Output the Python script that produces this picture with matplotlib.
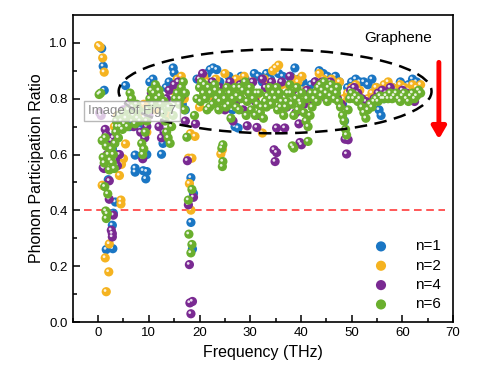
import matplotlib
matplotlib.use("Agg")
import matplotlib.pyplot as plt
from matplotlib.patches import Ellipse
from matplotlib.transforms import offset_copy

plt.rcParams['font.family'] = ['Liberation Sans', 'DejaVu Sans']

labels = ["n=1", "n=2", "n=4", "n=6"]
colors = ["#1a76c4", "#f5b320", "#7a2a92", "#6aaf2e"]

freq_n1 = [0.7,1.0,1.2,2.0,3.4,3.0,2.8,1.6,2.9,2.0,2.4,2.8,3.2,3.6,4.4,5.4,4.8,6.2,7.3,7.3,7.3,8.9,9.6,9.4,9.6,12.5,8.4,10.2,10.8,11.6,12.2,12.8,13.4,14.0,14.8,15.0,15.8,16.6,17.2,18.3,18.6,18.8,18.3,19.5,20.5,21.5,22.1,22.7,23.4,24.0,25.0,25.8,26.5,27.0,27.6,28.2,29.0,30.0,30.8,31.6,32.4,33.2,34.0,34.8,35.6,36.4,37.2,38.0,38.8,39.6,40.4,41.2,42.0,42.8,43.6,44.4,45.2,46.0,46.8,47.6,48.2,48.6,49.2,50.0,50.8,51.6,52.4,53.2,54.0,54.8,55.4,55.8,56.4,57.2,58.0,58.8,59.6,60.4,61.2,62.0,62.8,63.4]
ppr_n1 = [0.98,0.916,0.83,0.51,0.43,0.39,0.347,0.26,0.263,0.63,0.66,0.62,0.64,0.60,0.58,0.847,0.72,0.70,0.598,0.551,0.537,0.542,0.539,0.513,0.60,0.601,0.69,0.86,0.87,0.82,0.76,0.64,0.84,0.86,0.91,0.892,0.83,0.78,0.76,0.357,0.262,0.461,0.517,0.87,0.85,0.89,0.904,0.91,0.904,0.86,0.82,0.88,0.76,0.70,0.695,0.88,0.87,0.85,0.89,0.88,0.86,0.89,0.87,0.90,0.89,0.88,0.86,0.88,0.91,0.87,0.86,0.84,0.85,0.86,0.90,0.89,0.88,0.87,0.88,0.86,0.78,0.72,0.84,0.86,0.87,0.86,0.86,0.85,0.87,0.84,0.76,0.74,0.80,0.82,0.84,0.82,0.86,0.84,0.85,0.87,0.86,0.85]

freq_n2 = [0.1,0.4,0.9,1.2,0.8,1.4,2.1,1.6,2.2,4.5,4.5,4.2,4.6,5.0,5.4,3.2,3.8,6.5,7.8,9.0,9.6,10.5,11.5,12.5,13.5,14.5,15.6,16.4,17.0,17.8,18.5,18.0,18.3,19.1,18.2,20.0,20.8,21.6,22.4,23.2,24.2,24.5,25.0,25.8,26.5,27.2,28.0,28.8,29.6,30.4,31.2,32.4,32.8,33.6,34.4,35.0,35.6,36.2,37.0,37.8,38.6,39.4,40.2,41.0,42.0,42.8,43.6,44.4,45.2,46.0,46.8,47.6,48.4,49.2,50.0,50.8,51.6,52.4,53.2,54.0,54.8,55.6,56.4,57.2,58.0,58.8,59.6,60.4,61.2,62.0,62.8,63.6]
ppr_n2 = [0.99,0.985,0.946,0.895,0.49,0.23,0.18,0.109,0.28,0.437,0.423,0.525,0.565,0.585,0.638,0.70,0.74,0.79,0.74,0.78,0.68,0.79,0.76,0.80,0.74,0.83,0.87,0.88,0.80,0.587,0.587,0.496,0.401,0.665,0.675,0.77,0.88,0.86,0.81,0.87,0.602,0.617,0.89,0.85,0.79,0.87,0.82,0.88,0.84,0.86,0.81,0.677,0.87,0.84,0.90,0.91,0.92,0.85,0.78,0.84,0.87,0.86,0.88,0.83,0.79,0.82,0.89,0.87,0.85,0.87,0.84,0.86,0.80,0.82,0.84,0.85,0.83,0.78,0.80,0.82,0.84,0.83,0.85,0.86,0.84,0.83,0.85,0.84,0.83,0.85,0.84,0.85]

freq_n4 = [0.3,0.6,1.0,1.2,1.4,1.6,1.8,2.2,2.2,3.0,2.6,2.8,2.8,2.6,3.0,3.4,3.8,4.2,4.0,5.0,6.0,7.0,7.5,8.0,8.4,8.8,9.2,9.6,10.0,10.5,11.5,12.0,12.5,13.0,13.5,14.0,15.0,15.8,16.5,17.2,17.6,17.8,18.8,18.0,18.1,18.6,18.3,19.2,20.0,20.6,21.5,22.5,23.2,24.0,25.0,25.5,26.0,26.6,27.2,28.0,28.6,29.4,29.8,30.5,31.0,31.3,31.8,32.4,33.0,33.6,34.2,34.7,35.2,34.9,35.2,35.6,36.2,36.8,37.2,37.8,38.4,39.0,39.6,39.8,40.1,40.6,41.2,42.0,42.8,43.5,44.2,45.0,45.8,46.5,47.2,48.0,48.7,49.3,49.0,49.8,50.5,51.2,52.0,52.8,53.6,54.4,55.2,56.0,56.8,57.6,58.4,59.2,60.0,60.8,61.6,62.4,63.2]
ppr_n4 = [0.75,0.74,0.553,0.55,0.69,0.67,0.60,0.506,0.44,0.383,0.329,0.317,0.305,0.65,0.66,0.58,0.56,0.60,0.70,0.76,0.78,0.70,0.76,0.72,0.68,0.585,0.66,0.70,0.74,0.82,0.84,0.70,0.66,0.68,0.80,0.83,0.85,0.86,0.81,0.72,0.578,0.42,0.447,0.206,0.069,0.074,0.03,0.71,0.87,0.89,0.83,0.86,0.79,0.84,0.76,0.82,0.86,0.72,0.79,0.85,0.76,0.703,0.82,0.86,0.79,0.697,0.74,0.87,0.84,0.78,0.86,0.617,0.607,0.575,0.695,0.80,0.86,0.695,0.77,0.88,0.83,0.75,0.71,0.643,0.635,0.78,0.83,0.80,0.86,0.82,0.86,0.80,0.86,0.83,0.80,0.78,0.655,0.653,0.602,0.83,0.84,0.82,0.80,0.79,0.78,0.80,0.82,0.83,0.82,0.84,0.82,0.81,0.83,0.82,0.80,0.79,0.82]

freq_n6 = [0.2,0.5,0.8,1.0,1.2,1.3,1.9,1.5,1.8,1.6,1.4,1.6,2.0,2.2,2.4,2.6,2.8,3.0,3.2,3.3,3.5,3.6,3.8,4.0,4.2,4.4,4.6,4.8,5.0,5.2,5.5,5.8,6.0,6.3,6.6,7.0,7.3,7.6,8.0,8.3,8.6,8.8,9.0,9.3,9.6,9.8,10.2,10.5,10.8,11.0,11.3,11.6,12.0,12.4,12.8,13.2,13.5,13.8,14.2,14.5,14.8,15.2,15.6,16.0,16.4,16.8,17.2,17.5,17.8,17.9,18.5,18.3,18.5,19.0,19.5,20.0,20.4,20.8,21.2,21.5,21.8,22.2,22.6,23.0,23.4,23.8,24.2,24.6,24.4,24.6,24.5,25.0,25.4,25.8,26.2,26.6,27.0,27.4,27.8,28.2,28.6,29.0,29.4,29.8,30.2,30.6,31.0,31.4,31.8,32.2,32.6,33.0,33.4,33.8,34.2,34.6,35.0,35.4,35.8,36.2,36.6,37.0,37.4,37.8,38.3,38.6,38.2,38.6,39.0,39.4,39.8,40.2,40.6,41.0,41.4,41.4,41.8,42.2,42.6,43.0,43.4,43.8,44.2,44.6,45.0,45.4,45.8,46.2,46.6,47.0,47.4,47.8,48.2,48.5,48.8,49.0,49.3,49.6,50.0,50.4,50.8,51.2,51.6,52.0,52.4,52.8,53.2,53.6,54.0,54.4,54.8,55.2,55.6,56.0,56.4,56.8,57.2,57.6,58.0,58.4,58.8,59.2,59.6,60.0,60.4,60.8,61.2,61.6,62.0,62.4,62.8,63.2,63.6,
            20.2,21.0,22.0,23.2,24.0,25.2,26.0,27.2,28.0,29.2,30.0,31.2,32.0,33.2,34.0,35.2,36.0,37.2,38.0,39.2,40.0,41.2,42.0,43.2,44.0,45.2,46.0,47.2,12.2,13.0,14.0,16.2,17.0,6.8,7.8]
ppr_n6 = [0.815,0.82,0.65,0.59,0.57,0.485,0.459,0.398,0.388,0.371,0.66,0.63,0.60,0.545,0.58,0.62,0.57,0.60,0.55,0.64,0.68,0.72,0.70,0.66,0.74,0.70,0.72,0.69,0.75,0.71,0.73,0.70,0.76,0.82,0.80,0.74,0.71,0.78,0.76,0.72,0.64,0.60,0.62,0.68,0.72,0.76,0.80,0.83,0.78,0.82,0.85,0.80,0.83,0.78,0.75,0.72,0.68,0.66,0.64,0.70,0.74,0.80,0.82,0.78,0.84,0.86,0.82,0.662,0.437,0.315,0.278,0.248,0.475,0.74,0.80,0.84,0.86,0.82,0.80,0.76,0.84,0.82,0.78,0.85,0.80,0.76,0.82,0.635,0.623,0.575,0.557,0.80,0.84,0.78,0.73,0.80,0.84,0.81,0.76,0.80,0.83,0.86,0.79,0.82,0.76,0.80,0.74,0.78,0.82,0.77,0.73,0.79,0.81,0.84,0.78,0.82,0.80,0.76,0.82,0.79,0.74,0.77,0.82,0.85,0.631,0.623,0.78,0.74,0.80,0.76,0.79,0.82,0.75,0.72,0.647,0.70,0.74,0.77,0.80,0.82,0.84,0.85,0.83,0.86,0.82,0.84,0.81,0.83,0.80,0.82,0.79,0.77,0.74,0.72,0.69,0.67,0.76,0.80,0.82,0.80,0.81,0.79,0.80,0.77,0.75,0.73,0.76,0.78,0.77,0.79,0.80,0.79,0.81,0.80,0.80,0.81,0.80,0.82,0.80,0.81,0.82,0.80,0.79,0.81,0.82,0.80,0.79,0.81,0.82,0.80,0.81,0.83,0.82,
           0.79,0.85,0.77,0.83,0.79,0.77,0.82,0.77,0.84,0.74,0.84,0.82,0.75,0.77,0.80,0.84,0.77,0.79,0.82,0.84,0.78,0.80,0.82,0.79,0.81,0.79,0.85,0.84,0.81,0.79,0.77,0.80,0.76,0.77,0.73]

x_ticks = [0, 10, 20, 30, 40, 50, 60, 70]
y_ticks = [0.0, 0.2, 0.4, 0.6, 0.8, 1.0]

fig = plt.figure(figsize=(4.82, 3.72), dpi=100)
ax = fig.add_axes([0.151, 0.134, 0.789, 0.826])

series = [(freq_n1, ppr_n1), (freq_n2, ppr_n2), (freq_n4, ppr_n4), (freq_n6, ppr_n6)]
hl = offset_copy(ax.transData, fig=fig, x=-1.2, y=1.2, units='dots')
for (fx, fy), c, lab in zip(series, colors, labels):
    ax.scatter(fx, fy, s=44, color=c, edgecolors='none', label=lab, zorder=3)
    ax.scatter(fx, fy, s=4, color='white', alpha=0.85, edgecolors='none',
               transform=hl, zorder=3)

ax.axhline(0.4, xmin=0.03, xmax=0.98, color='#ff2a2a', ls=(0, (5, 3)), lw=1.1, zorder=2)

ell = Ellipse((34.9, 0.826), 61.7, 0.30, fill=False, ec='black', lw=1.8,
              ls=(0, (5, 3)), zorder=4)
ax.add_patch(ell)

ax.annotate('', xy=(67.2, 0.645), xytext=(67.2, 0.94),
            arrowprops=dict(arrowstyle='-|>,head_length=0.6,head_width=0.35',
                            color='#ff0000', lw=3.5, mutation_scale=12),
            zorder=5)

ax.text(59.2, 1.018, 'Graphene', ha='center', va='center', fontsize=11)

ax.set_xlim(-5, 70)
ax.set_ylim(0, 1.1)
ax.set_xticks(x_ticks)
ax.set_yticks(y_ticks)
ax.set_yticklabels([f"{v:.1f}" for v in y_ticks])
ax.set_xticks([-5, 5, 15, 25, 35, 45, 55, 65], minor=True)
ax.set_yticks([0.1, 0.3, 0.5, 0.7, 0.9], minor=True)
ax.tick_params(which='both', direction='in', labelsize=9.5, width=1.1)
ax.tick_params(which='major', length=5)
ax.tick_params(which='minor', length=3)
for sp in ax.spines.values():
    sp.set_linewidth(1.2)

ax.set_xlabel('Frequency (THz)', fontsize=11.5, labelpad=4)
ax.set_ylabel('Phonon Participation Ratio', fontsize=11.5, labelpad=4)

leg = ax.legend(loc='lower right', frameon=False, fontsize=11, handletextpad=1.2,
                labelspacing=0.35, borderaxespad=0.3, markerscale=1.1,
                bbox_to_anchor=(0.995, 0.0))

fig.text(0.274, 0.702, 'Image of Fig. 7', ha='center', va='center', fontsize=9.5,
         color='#8a8a8a',
         bbox=dict(boxstyle='square,pad=0.3', fc='white', alpha=0.75, ec='#a0a0a0', lw=1.0),
         zorder=10)

fig.savefig('out.png', dpi=100)
